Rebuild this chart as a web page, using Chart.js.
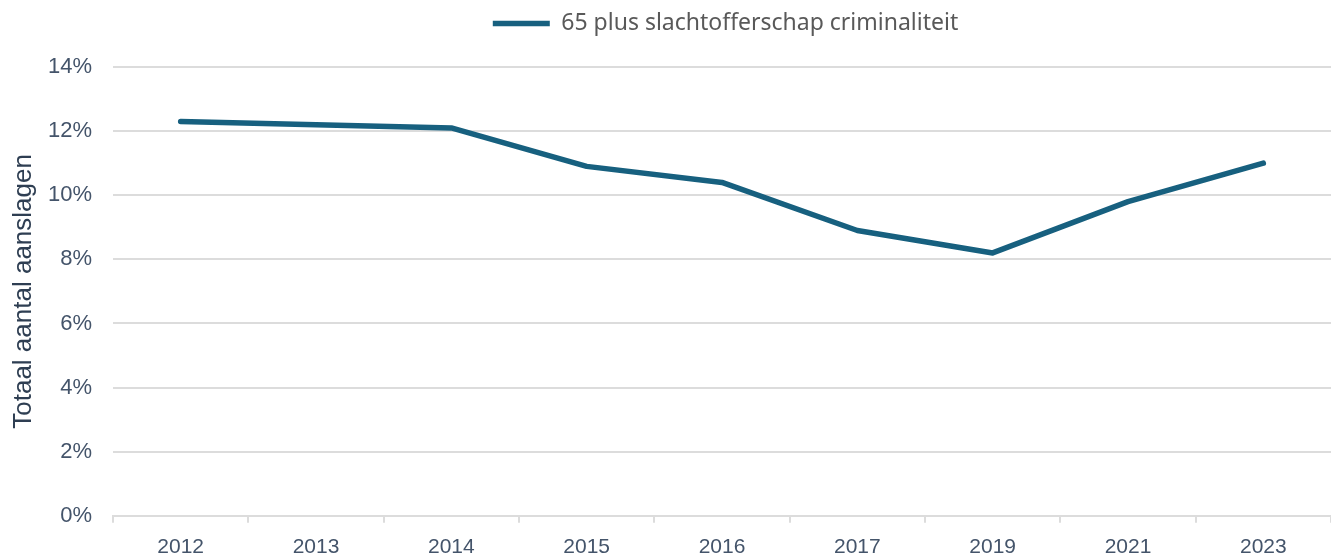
<!DOCTYPE html>
<html>
<head>
<meta charset="utf-8">
<script src="https://cdn.jsdelivr.net/npm/chart.js@4"></script>
<style>
  html, body { margin: 0; padding: 0; background: #fff; }
  #wrap { width: 1331px; height: 555px; }
</style>
</head>
<body>
<div id="wrap"><canvas id="chart"></canvas></div>
<script>
const YEARS = ['2012', '2013', '2014', '2015', '2016', '2017', '2019', '2021', '2023'];
const SLACHTOFFERS_65 = [12.3, 12.2, 12.1, 10.9, 10.4, 8.9, 8.2, 9.8, 11.0];
const SERIES_LABEL = '65 plus slachtofferschap criminaliteit';
const Y_TITLE = 'Totaal aantal aanslagen';

const LINE_COLOR = '#17607f';
const GRID_COLOR = '#dcdcdc';
const TICK_COLOR = '#44546a';

// extra room under the legend, and centre it over the plot area instead of the canvas
const legendSpace = {
    id: 'legendSpace',
    afterInit(chart) {
        const legend = chart.legend;
        if (!legend || legend._spaced) return;
        const fit = legend.fit;
        legend.fit = function () {
            fit.call(this);
            this.height += 24;
        };
        legend._spaced = true;
    },
    afterLayout(chart) {
        const legend = chart.legend;
        if (!legend) return;
        legend.left += 60;
        legend.right += 60;
        legend.top += 2;
        legend.bottom += 2;
    }
};

new Chart(document.getElementById('chart'), {
    type: 'line',
    data: {
        labels: YEARS,
        datasets: [{
            label: SERIES_LABEL,
            data: SLACHTOFFERS_65,
            borderColor: LINE_COLOR,
            backgroundColor: LINE_COLOR,
            borderWidth: 5.5,
            borderCapStyle: 'round',
            borderJoinStyle: 'round',
            pointRadius: 0,
            tension: 0,
        }]
    },
    plugins: [legendSpace],
    options: {
        responsive: true,
        maintainAspectRatio: false,
        animation: false,
        layout: { padding: { top: 0, right: 0, bottom: -17, left: 0 } },
        scales: {
            x: {
                offset: true,
                grid: {
                    offset: true,
                    drawOnChartArea: false,
                    drawTicks: true,
                    tickLength: 7,
                    color: GRID_COLOR,
                    lineWidth: 2,
                },
                border: { color: GRID_COLOR, width: 2 },
                ticks: {
                    color: TICK_COLOR,
                    padding: 12,
                    font: { family: 'Liberation Sans', size: 21 },
                },
            },
            y: {
                min: 0,
                max: 14,
                ticks: {
                    stepSize: 2,
                    padding: 21,
                    color: TICK_COLOR,
                    font: { family: 'Liberation Sans', size: 22 },
                    callback: v => v + '%',
                },
                grid: { color: GRID_COLOR, lineWidth: 2, drawTicks: false },
                border: { display: false },
                title: {
                    display: true,
                    text: Y_TITLE,
                    color: '#2e3e52',
                    padding: { top: 8, bottom: 0 },
                    font: { family: 'Liberation Sans', size: 26 },
                },
                afterFit: scale => { scale.width = 113; },
            },
        },
        plugins: {
            legend: {
                position: 'top',
                labels: {
                    usePointStyle: true,
                    pointStyle: 'line',
                    pointStyleWidth: 57,
                    color: '#595959',
                    padding: 10,
                    font: { family: 'Noto Sans', size: 23 },
                },
            },
            tooltip: { enabled: false },
        },
    },
});
</script>
</body>
</html>
